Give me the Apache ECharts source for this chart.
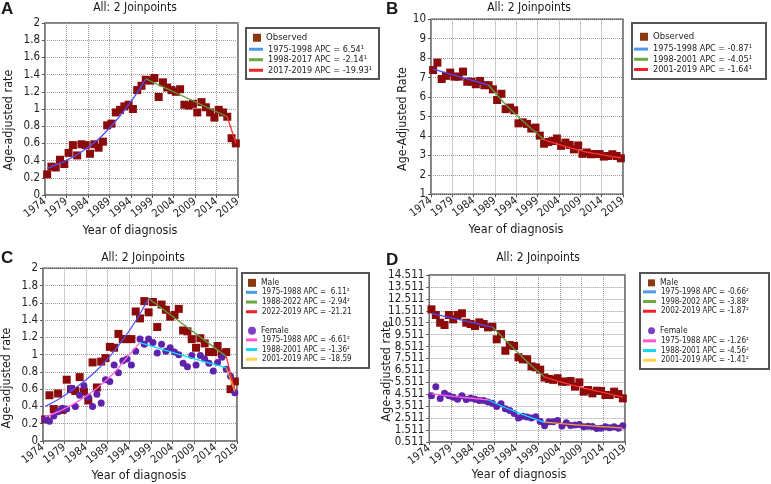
<!DOCTYPE html>
<html><head><meta charset="utf-8">
<script src="https://cdn.jsdelivr.net/npm/echarts@6/dist/echarts.min.js"></script>
<style>html,body{margin:0;padding:0;background:#fff}#c{width:771px;height:484px}</style>
</head><body><div id="c"></div>
<script>
// ---------- categories ----------
const years = ['1975','1976','1977','1978','1979','1980','1981','1982','1983','1984',
  '1985','1986','1987','1988','1989','1990','1991','1992','1993','1994',
  '1995','1996','1997','1998','1999','2000','2001','2002','2003','2004',
  '2005','2006','2007','2008','2009','2010','2011','2012','2013','2014',
  '2015','2016','2017','2018','2019'];
const dTicks = [0.511,1.511,2.511,3.511,4.511,5.511,6.511,7.511,8.511,9.511,10.511,11.511,12.511,13.511,14.511];

// ---------- Panel A ----------
const aObserved = [0.24,0.33,0.32,0.41,0.36,0.49,0.58,0.46,0.59,0.58,
  0.48,0.59,0.55,0.62,0.81,0.83,0.96,0.99,1.03,1.05,
  1.00,1.22,1.27,1.34,1.33,1.36,1.14,1.31,1.25,1.22,
  1.20,1.23,1.05,1.04,1.06,0.96,1.08,1.02,0.96,0.90,
  0.99,0.96,0.91,0.66,0.60];
const aFit1 = [['1975',0.31],['1979',0.39],['1983',0.50],['1987',0.65],['1991',0.86],['1994',1.05],['1996',1.19],['1998',1.35]];
const aFit2 = [['1998',1.35],['2017',0.91]];
const aFit3 = [['2017',0.91],['2019',0.60]];
const aNames = ['1975-1998 APC = 6.54\u00b9','1998-2017 APC = -2.14\u00b9','2017-2019 APC = -19.93\u00b9'];

// ---------- Panel B ----------
const bObserved = [7.39,7.77,6.93,7.09,7.26,7.05,7.05,7.31,6.79,6.79,
  6.66,6.83,6.61,6.61,6.40,5.85,6.17,5.38,5.46,5.32,
  4.65,4.70,4.62,4.38,4.43,4.02,3.60,3.69,3.74,3.87,
  3.49,3.66,3.54,3.31,3.51,3.08,3.15,3.06,3.07,3.07,
  2.94,2.97,3.06,2.97,2.85];
const bFit1 = [['1975',7.44],['1988',6.62]];
const bFit2 = [['1988',6.62],['1991',5.85],['1994',5.18],['1997',4.58],['2001',3.80]];
const bFit3 = [['2001',3.80],['2005',3.53],['2010',3.22],['2015',3.02],['2019',2.88]];
const bNames = ['1975-1998 APC = -0.87\u00b9','1998-2001 APC = -4.05\u00b9','2001-2019 APC = -1.64\u00b9'];

// ---------- Panel C ----------
const cMale = [0.25,0.53,0.37,0.55,0.36,0.71,0.60,0.58,0.74,0.57,
  0.47,0.91,0.62,0.92,0.96,1.09,1.08,1.24,1.18,1.18,
  1.18,1.50,1.42,1.62,1.49,1.61,1.32,1.58,1.52,1.44,
  1.46,1.53,1.28,1.27,1.18,1.08,1.19,1.13,1.03,1.03,
  1.10,1.01,1.03,0.60,0.69];
const cFemale = [0.25,0.23,0.29,0.34,0.38,0.37,0.61,0.40,0.53,0.64,
  0.51,0.40,0.54,0.44,0.71,0.69,0.88,0.79,0.93,0.95,
  0.88,1.04,1.18,1.12,1.18,1.14,1.02,1.12,1.04,1.08,
  1.03,1.00,0.90,0.86,0.99,0.88,0.99,0.95,0.90,0.81,
  0.91,0.97,0.83,0.75,0.56];
const cMaleFit1 = [['1975',0.40],['1978',0.48],['1981',0.58],['1984',0.69],['1987',0.82],['1990',0.98],['1993',1.17],['1996',1.39],['1999',1.65]];
const cMaleFit2 = [['1999',1.65],['2017',0.98]];
const cMaleFit3 = [['2017',0.98],['2019',0.58]];
const cFemFit1 = [['1975',0.28],['1979',0.36],['1983',0.47],['1987',0.61],['1991',0.79],['1994',0.97],['1997',1.14]];
const cFemFit2 = [['1997',1.14],['2007',0.99],['2017',0.85]];
const cFemFit3 = [['2017',0.85],['2019',0.57]];
const cMaleNames = ['1975-1988 APC =  6.11\u00b2','1988-2022 APC = -2.94\u00b2','2022-2019 APC = -21.21'];
const cFemNames = ['1975-1988 APC = -6.61\u00b2','1988-2001 APC = -1.36\u00b2','2001-2019 APC = -18.59'];

// ---------- Panel D ----------
const dMale = [11.63,11.16,10.51,10.32,11.16,10.79,11.16,11.30,10.51,10.40,
  10.23,10.54,10.40,10.12,10.17,9.12,9.56,8.16,8.64,8.56,
  7.61,7.44,7.45,6.85,6.77,6.58,5.92,5.80,5.72,5.86,
  5.57,5.57,5.62,5.15,5.51,4.73,4.87,4.59,4.81,4.79,
  4.45,4.45,4.73,4.53,4.17];
const dFemale = [4.38,5.15,4.16,4.60,4.38,4.27,4.10,4.38,4.07,4.18,
  4.10,4.00,4.00,3.86,3.76,3.48,3.72,3.30,3.15,2.90,
  2.52,2.66,2.60,2.52,2.63,2.24,1.88,2.20,2.21,2.31,
  1.86,2.12,1.89,1.94,1.97,1.79,1.84,1.82,1.64,1.67,
  1.78,1.71,1.78,1.67,1.88];
const dMaleFit1 = [['1975',11.30],['1982',10.72],['1989',10.15]];
const dMaleFit2 = [['1989',10.15],['1992',9.05],['1995',7.95],['1998',6.90],['2001',5.95]];
const dMaleFit3 = [['2001',5.95],['2005',5.52],['2010',5.02],['2015',4.62],['2019',4.28]];
const dFemFit1 = [['1975',4.55],['1981',4.30],['1988',4.05]];
const dFemFit2 = [['1988',4.05],['1991',3.55],['1994',3.10],['1997',2.68],['2001',2.15]];
const dFemFit3 = [['2001',2.18],['2010',1.90],['2019',1.68]];
const dMaleNames = ['1975-1998 APC = -0.66\u00b2','1998-2002 APC = -3.88\u00b2','2002-2019 APC = -1.87\u00b2'];
const dFemNames = ['1975-1988 APC = -1.26\u00b2','1988-2001 APC = -4.56\u00b2','2001-2019 APC = -1.41\u00b2'];

// ---------- styling ----------
const FONT = '"DejaVu Sans Condensed", "Liberation Sans", sans-serif';
const plotCol = {blue:'#4f4ff5', green:'#5c9e3c', red:'#ff3030', pink:'#ff66dd', cyan:'#00e2ff', orange:'#f5a030'};
const legCol = {blue:'#4a9be8', green:'#6aa842', red:'#f0202a', pink:'#ff5ad2', cyan:'#19d4f0', yellow:'#ffd24d'};
const sqCol = '#8b0a0a', circCol = '#5f22ad', sqLeg = '#8b3a0f', circLeg = '#7b3fc8';

const grids = [
  {left:45, top:23, width:193, height:172},
  {left:431, top:19.3, width:192, height:175},
  {left:43, top:268.3, width:194, height:172.7},
  {left:429.3, top:275, width:195.7, height:167}
].map(g => Object.assign(g, {show:true, borderColor:'#555', borderWidth:1.5}));

const xAxes = [], yAxes = [];
const yCfg = [
  {min:0, max:2, interval:0.2, fmt: v => String(+v.toFixed(1))},
  {min:1, max:10, interval:1, fmt: v => String(Math.round(v))},
  {min:0, max:2, interval:0.2, fmt: v => String(+v.toFixed(1))},
  {min:0.511, max:14.511, interval:1, fmt: v => v.toFixed(3), custom: dTicks}
];
for (let i = 0; i < 4; i++) {
  xAxes.push({type:'value', gridIndex:i, min:1974, max:2019, interval:5,
    axisLine:{show:false}, axisTick:{show:true, length:3, lineStyle:{color:'#555'}},
    axisLabel:{rotate:38, fontSize:11, margin:5, color:'#222', fontFamily:FONT, formatter: v => String(v)},
    splitLine:{show:true, lineStyle:{type:'dotted', color:'#999', width:1}}});
  xAxes.push({type:'category', gridIndex:i, data:years, boundaryGap:true, show:false});
  const ya = {type:'value', gridIndex:i, min:yCfg[i].min, max:yCfg[i].max, interval:yCfg[i].interval,
    axisLine:{show:false}, axisTick:{show:true, length:3, lineStyle:{color:'#555'}},
    axisLabel:{fontSize:11.5, margin:5, color:'#222', fontFamily:FONT, formatter: yCfg[i].fmt},
    splitLine:{show:true, lineStyle:{type:'dotted', color:'#999', width:1}}};
  if (yCfg[i].custom) {
    ya.axisLabel.customValues = yCfg[i].custom;
    ya.axisTick.customValues = yCfg[i].custom;
  }
  yAxes.push(ya);
}

const series = [];
function scat(name, gi, data, symbol, size, color) {
  series.push({type:'scatter', name, xAxisIndex:gi*2+1, yAxisIndex:gi, data, symbol, symbolSize:size,
    itemStyle:{color, opacity:1}, z:2, silent:true});
}
function fit(name, gi, data, color) {
  series.push({type:'line', name, xAxisIndex:gi*2+1, yAxisIndex:gi, data, smooth:0.35, showSymbol:false,
    symbol:'none', lineStyle:{color, width:1.3}, itemStyle:{color}, z:4, silent:true});
}
scat('Observed', 0, aObserved, 'rect', 8, sqCol);
fit(aNames[0], 0, aFit1, plotCol.blue); fit(aNames[1], 0, aFit2, plotCol.green); fit(aNames[2], 0, aFit3, plotCol.red);
scat('Observed', 1, bObserved, 'rect', 8, sqCol);
fit(bNames[0], 1, bFit1, plotCol.blue); fit(bNames[1], 1, bFit2, plotCol.green); fit(bNames[2], 1, bFit3, plotCol.red);
scat('Male', 2, cMale, 'rect', 8, sqCol);
scat('Female', 2, cFemale, 'circle', 7, circCol);
fit(cMaleNames[0], 2, cMaleFit1, plotCol.blue); fit(cMaleNames[1], 2, cMaleFit2, plotCol.green); fit(cMaleNames[2], 2, cMaleFit3, plotCol.red);
fit(cFemNames[0], 2, cFemFit1, plotCol.pink); fit(cFemNames[1], 2, cFemFit2, plotCol.cyan); fit(cFemNames[2], 2, cFemFit3, plotCol.orange);
scat('Male', 3, dMale, 'rect', 8, sqCol);
scat('Female', 3, dFemale, 'circle', 7, circCol);
fit(dMaleNames[0], 3, dMaleFit1, plotCol.blue); fit(dMaleNames[1], 3, dMaleFit2, plotCol.green); fit(dMaleNames[2], 3, dMaleFit3, plotCol.red);
fit(dFemNames[0], 3, dFemFit1, plotCol.pink); fit(dFemNames[1], 3, dFemFit2, plotCol.cyan); fit(dFemNames[2], 3, dFemFit3, plotCol.orange);

function leg(items, left, top, iw, ih, fs, lh) {
  return {orient:'vertical', left, top, padding:0, itemGap:0, itemWidth:iw, itemHeight:ih,
    selectedMode:false, textStyle:{fontSize:fs, lineHeight:lh, color:'#222', fontFamily:FONT},
    data: items};
}
const L = (name, icon, color) => ({name, icon, itemStyle:{color, borderWidth:0}});
const legends = [
  leg([L('Observed','rect',sqLeg)], 253, 32.5, 8, 8, 9.5, 10.5),
  leg([L(aNames[0],'rect',legCol.blue), L(aNames[1],'rect',legCol.green), L(aNames[2],'rect',legCol.red)], 249, 44, 14, 3, 9, 10.5),
  leg([L('Observed','rect',sqLeg)], 640, 31.5, 8, 8, 9.5, 10.5),
  leg([L(bNames[0],'rect',legCol.blue), L(bNames[1],'rect',legCol.green), L(bNames[2],'rect',legCol.red)], 634, 44, 14, 3, 9, 10.2),
  leg([L('Male','rect',sqLeg)], 248, 278, 8, 8, 8.5, 9.7),
  leg([L(cMaleNames[0],'rect',legCol.blue), L(cMaleNames[1],'rect',legCol.green), L(cMaleNames[2],'rect',legCol.red)], 246, 287.5, 11, 3, 8, 9.7),
  leg([L('Female','circle',circLeg)], 248, 326, 8, 8, 8.5, 9.7),
  leg([L(cFemNames[0],'rect',legCol.pink), L(cFemNames[1],'rect',legCol.cyan), L(cFemNames[2],'rect',legCol.yellow)], 246, 335, 11, 3, 8, 9.7),
  leg([L('Male','rect',sqLeg)], 648, 278, 7, 7, 8.5, 9.7),
  leg([L(dMaleNames[0],'rect',legCol.blue), L(dMaleNames[1],'rect',legCol.green), L(dMaleNames[2],'rect',legCol.red)], 643, 287, 13, 3, 8, 9.7),
  leg([L('Female','circle',circLeg)], 648, 326, 7, 7, 8.5, 9.7),
  leg([L(dFemNames[0],'rect',legCol.pink), L(dFemNames[1],'rect',legCol.cyan), L(dFemNames[2],'rect',legCol.yellow)], 643, 336, 13, 3, 8, 9.7)
];

function txt(text, x, y, size, opts) {
  opts = opts || {};
  return {type:'text', x, y, rotation: opts.rot || 0, silent:true, z:10,
    style:{text, x:0, y:0, fill:'#1a1a1a',
      font: (opts.bold ? 'bold ' : '') + size + 'px ' + (opts.family || FONT),
      align: opts.align || 'center', verticalAlign:'middle',
      textAlign: opts.align || 'center', textVerticalAlign:'middle'}};
}
function box(x, y, w, h) {
  return {type:'rect', shape:{x, y, width:w, height:h}, silent:true, z:0,
    style:{fill:'#fff', stroke:'#555', lineWidth:2}};
}
const PANEL = '"Liberation Sans", "DejaVu Sans", sans-serif';
const graphic = [
  box(246, 28, 133, 51), box(632, 23, 134, 56), box(242, 273, 127, 95), box(640, 273, 129, 96),
  txt('A', 1, 9.5, 17, {bold:true, align:'left', family:PANEL}),
  txt('B', 386, 9.5, 17, {bold:true, align:'left', family:PANEL}),
  txt('C', 1, 258.5, 17, {bold:true, align:'left', family:PANEL}),
  txt('D', 386, 260, 17, {bold:true, align:'left', family:PANEL}),
  txt('All: 2 Joinpoints', 135, 8, 12), txt('All: 2 Joinpoints', 529, 7.5, 12),
  txt('All: 2 Joinpoints', 143, 257.5, 12), txt('All: 2 Joinpoints', 538, 258, 12),
  txt('Year of diagnosis', 130, 230.5, 12.5), txt('Year of diagnosis', 516, 230, 12.5),
  txt('Year of diagnosis', 139, 475.5, 12.5), txt('Year of diagnosis', 519, 475, 12.5),
  txt('Age-adjusted rate', 9, 120, 12.5, {rot:Math.PI/2}),
  txt('Age-Adjusted Rate', 403, 119, 12.5, {rot:Math.PI/2}),
  txt('Age-adjusted rate', 7, 378, 12.5, {rot:Math.PI/2}),
  txt('Age-adjusted rate', 387, 371, 12.5, {rot:Math.PI/2})
];

const chart = echarts.init(document.getElementById('c'), null, {renderer:'canvas'});
chart.setOption({
  animation:false, backgroundColor:'#fff',
  textStyle:{fontFamily:FONT},
  grid:grids, xAxis:xAxes, yAxis:yAxes, series, legend:legends, graphic
});
</script></body></html>
